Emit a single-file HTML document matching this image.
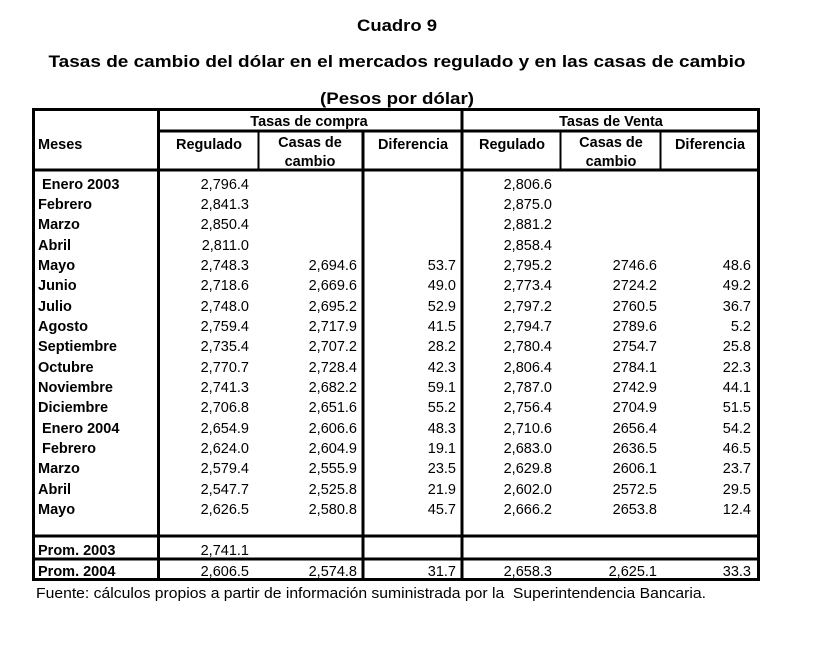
<!DOCTYPE html>
<html><head><meta charset="utf-8"><style>
html,body{margin:0;padding:0;background:#fff;}
svg{display:block;}
text{font-family:"Liberation Sans",Arial,sans-serif;fill:#000;}
.b{font-weight:bold;}
</style></head><body>
<svg width="823" height="657" viewBox="0 0 823 657" xmlns="http://www.w3.org/2000/svg">
<text x="397" y="31" class="b" font-size="17" text-anchor="middle" textLength="80" lengthAdjust="spacingAndGlyphs">Cuadro 9</text>
<text x="397" y="67" class="b" font-size="17" text-anchor="middle" textLength="697" lengthAdjust="spacingAndGlyphs">Tasas de cambio del dólar en el mercados regulado y en las casas de cambio</text>
<text x="397" y="104" class="b" font-size="17" text-anchor="middle" textLength="154" lengthAdjust="spacingAndGlyphs">(Pesos por dólar)</text>

<g stroke="#000" fill="none">
<rect x="33.5" y="109.5" width="725" height="470" stroke-width="3"/>
<line x1="158.5" y1="108" x2="158.5" y2="581" stroke-width="3"/>
<line x1="363" y1="131" x2="363" y2="581" stroke-width="3"/>
<line x1="462" y1="108" x2="462" y2="581" stroke-width="3"/>
<line x1="158" y1="131" x2="759" y2="131" stroke-width="3"/>
<line x1="33" y1="170" x2="759" y2="170" stroke-width="3"/>
<line x1="258.5" y1="131" x2="258.5" y2="170" stroke-width="2"/>
<line x1="560.5" y1="131" x2="560.5" y2="170" stroke-width="2"/>
<line x1="660.5" y1="131" x2="660.5" y2="170" stroke-width="2"/>
<line x1="33" y1="536" x2="759" y2="536" stroke-width="3"/>
<line x1="33" y1="559" x2="759" y2="559" stroke-width="3"/>
</g>

<g class="b" font-size="14.5">
<text x="38" y="149">Meses</text>
<text x="309" y="126" text-anchor="middle">Tasas de compra</text>
<text x="611" y="126" text-anchor="middle">Tasas de Venta</text>
<text x="209" y="149" text-anchor="middle">Regulado</text>
<text x="310" y="147" text-anchor="middle">Casas de</text>
<text x="310" y="166" text-anchor="middle">cambio</text>
<text x="413" y="149" text-anchor="middle">Diferencia</text>
<text x="512" y="149" text-anchor="middle">Regulado</text>
<text x="611" y="147" text-anchor="middle">Casas de</text>
<text x="611" y="166" text-anchor="middle">cambio</text>
<text x="710" y="149" text-anchor="middle">Diferencia</text>
</g>

<g font-size="14.5">
<g class="b">
<text x="42" y="189">Enero 2003</text>
<text x="38" y="209">Febrero</text>
<text x="38" y="229">Marzo</text>
<text x="38" y="250">Abril</text>
<text x="38" y="270">Mayo</text>
<text x="38" y="290">Junio</text>
<text x="38" y="311">Julio</text>
<text x="38" y="331">Agosto</text>
<text x="38" y="351">Septiembre</text>
<text x="38" y="372">Octubre</text>
<text x="38" y="392">Noviembre</text>
<text x="38" y="412">Diciembre</text>
<text x="42" y="433">Enero 2004</text>
<text x="42" y="453">Febrero</text>
<text x="38" y="473">Marzo</text>
<text x="38" y="494">Abril</text>
<text x="38" y="514">Mayo</text>
<text x="38" y="555">Prom. 2003</text>
<text x="38" y="576">Prom. 2004</text>
</g>
<g text-anchor="end">
<g transform="translate(249,0)">
<text y="189">2,796.4</text><text y="209">2,841.3</text><text y="229">2,850.4</text><text y="250">2,811.0</text><text y="270">2,748.3</text><text y="290">2,718.6</text><text y="311">2,748.0</text><text y="331">2,759.4</text><text y="351">2,735.4</text><text y="372">2,770.7</text><text y="392">2,741.3</text><text y="412">2,706.8</text><text y="433">2,654.9</text><text y="453">2,624.0</text><text y="473">2,579.4</text><text y="494">2,547.7</text><text y="514">2,626.5</text><text y="555">2,741.1</text><text y="576">2,606.5</text>
</g>
<g transform="translate(357,0)">
<text y="270">2,694.6</text><text y="290">2,669.6</text><text y="311">2,695.2</text><text y="331">2,717.9</text><text y="351">2,707.2</text><text y="372">2,728.4</text><text y="392">2,682.2</text><text y="412">2,651.6</text><text y="433">2,606.6</text><text y="453">2,604.9</text><text y="473">2,555.9</text><text y="494">2,525.8</text><text y="514">2,580.8</text><text y="576">2,574.8</text>
</g>
<g transform="translate(456,0)">
<text y="270">53.7</text><text y="290">49.0</text><text y="311">52.9</text><text y="331">41.5</text><text y="351">28.2</text><text y="372">42.3</text><text y="392">59.1</text><text y="412">55.2</text><text y="433">48.3</text><text y="453">19.1</text><text y="473">23.5</text><text y="494">21.9</text><text y="514">45.7</text><text y="576">31.7</text>
</g>
<g transform="translate(552,0)">
<text y="189">2,806.6</text><text y="209">2,875.0</text><text y="229">2,881.2</text><text y="250">2,858.4</text><text y="270">2,795.2</text><text y="290">2,773.4</text><text y="311">2,797.2</text><text y="331">2,794.7</text><text y="351">2,780.4</text><text y="372">2,806.4</text><text y="392">2,787.0</text><text y="412">2,756.4</text><text y="433">2,710.6</text><text y="453">2,683.0</text><text y="473">2,629.8</text><text y="494">2,602.0</text><text y="514">2,666.2</text><text y="576">2,658.3</text>
</g>
<g transform="translate(657,0)">
<text y="270">2746.6</text><text y="290">2724.2</text><text y="311">2760.5</text><text y="331">2789.6</text><text y="351">2754.7</text><text y="372">2784.1</text><text y="392">2742.9</text><text y="412">2704.9</text><text y="433">2656.4</text><text y="453">2636.5</text><text y="473">2606.1</text><text y="494">2572.5</text><text y="514">2653.8</text><text y="576">2,625.1</text>
</g>
<g transform="translate(751,0)">
<text y="270">48.6</text><text y="290">49.2</text><text y="311">36.7</text><text y="331">5.2</text><text y="351">25.8</text><text y="372">22.3</text><text y="392">44.1</text><text y="412">51.5</text><text y="433">54.2</text><text y="453">46.5</text><text y="473">23.7</text><text y="494">29.5</text><text y="514">12.4</text><text y="576">33.3</text>
</g>
</g>
</g>
<text x="36" y="598" font-size="14.5" xml:space="preserve" textLength="670" lengthAdjust="spacingAndGlyphs">Fuente: cálculos propios a partir de información suministrada por la  Superintendencia Bancaria.</text>
</svg>
</body></html>
